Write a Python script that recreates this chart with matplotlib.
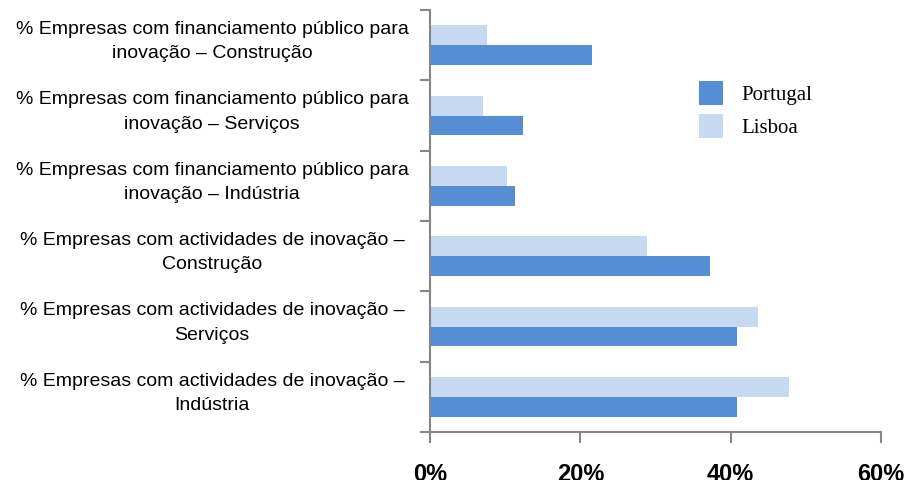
import matplotlib
matplotlib.use("Agg")
import matplotlib.pyplot as plt
import numpy as np

# categories listed top to bottom as in the chart
categories = [
    "% Empresas com financiamento público para\ninovação – Construção",
    "% Empresas com financiamento público para\ninovação – Serviços",
    "% Empresas com financiamento público para\ninovação – Indústria",
    "% Empresas com actividades de inovação –\nConstrução",
    "% Empresas com actividades de inovação –\nServiços",
    "% Empresas com actividades de inovação –\nIndústria",
]
portugal = [21.5, 12.4, 11.3, 37.2, 40.9, 40.9]
lisboa = [7.6, 7.1, 10.3, 28.9, 43.7, 47.8]
x_ticks = [0, 20, 40, 60]
x_labels = ["0%", "20%", "40%", "60%"]

col_pt = "#558ED5"
col_lx = "#C6D9F1"
grey = "#868686"

fig = plt.figure(figsize=(9.07, 4.80), dpi=100)
ax = fig.add_axes([430 / 907, 1 - 432 / 480, 451 / 907, 422 / 480])

y = np.arange(len(categories))
h = 0.284
ax.barh(y - h / 2, lisboa, height=h, color=col_lx, label="Lisboa")
ax.barh(y + h / 2, portugal, height=h, color=col_pt, label="Portugal")

ax.set_ylim(len(categories) - 0.5, -0.5)
ax.set_xlim(0, 60)

for s in ["top", "right"]:
    ax.spines[s].set_visible(False)
for s in ["left", "bottom"]:
    ax.spines[s].set_color(grey)
    ax.spines[s].set_linewidth(1.5)

ax.set_xticks(x_ticks)
ax.set_xticklabels(x_labels, fontsize=17, fontweight="bold",
                   family=["Liberation Sans", "DejaVu Sans"])
ax.tick_params(axis="x", length=8, width=1.5, color=grey, pad=14)

# labels sit a little above the middle of each band
ax.set_yticks(y - 0.13)
ax.set_yticklabels(categories, fontsize=14, ha="center", linespacing=1.55,
                   family=["Liberation Sans", "DejaVu Sans"])
ax.tick_params(axis="y", which="major", length=0, pad=157)
ax.set_yticks(np.arange(-0.5, len(categories) + 0.5, 1), minor=True)
ax.tick_params(axis="y", which="minor", length=7, width=1.5, color=grey)

handles, labels = ax.get_legend_handles_labels()
leg = fig.legend(handles[::-1], labels[::-1], loc="upper left",
                 bbox_to_anchor=(680 / 907, 1 - 62 / 480), frameon=False,
                 prop={"family": "Liberation Serif", "size": 15},
                 handlelength=1.15, handleheight=1.4, handletextpad=0.9,
                 labelspacing=0.45)

fig.savefig("out.png", dpi=100)
